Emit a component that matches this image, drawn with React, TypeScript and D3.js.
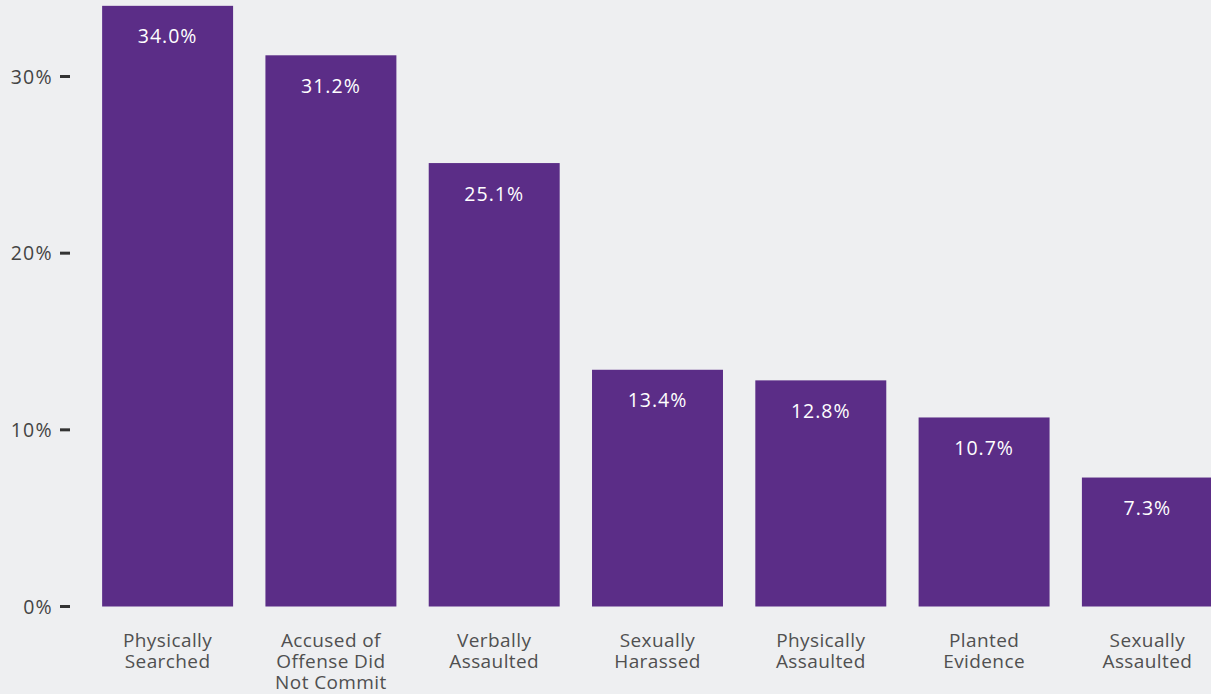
import React from "react";
import * as d3 from "d3";

const categories: string[][] = [
  ["Physically", "Searched"],
  ["Accused of", "Offense Did", "Not Commit"],
  ["Verbally", "Assaulted"],
  ["Sexually", "Harassed"],
  ["Physically", "Assaulted"],
  ["Planted", "Evidence"],
  ["Sexually", "Assaulted"],
];
const values: number[] = [34.0, 31.2, 25.1, 13.4, 12.8, 10.7, 7.3];
const yTicks: number[] = [0, 10, 20, 30];

const W = 1211;
const H = 694;
const FONT = "'Open Sans', sans-serif";

export default function App() {
  const keys = categories.map((c) => c.join(" "));
  const x = d3
    .scaleBand<string>()
    .domain(keys)
    .range([85.8, 1229.2])
    .paddingInner(0.198)
    .paddingOuter(0.1);
  const y = d3.scaleLinear().domain([0, 30]).range([606.5, 76.5]);

  return (
    <svg
      width={W}
      height={H}
      style={{ position: "absolute", left: 0, top: 0, display: "block", background: "#eeeff1" }}
    >
      <rect x={0} y={0} width={W} height={H} fill="#eeeff1" />
      {yTicks.map((t) => (
        <g key={t}>
          <line x1={60} x2={70} y1={y(t)} y2={y(t)} stroke="#333" strokeWidth={3} />
          <text
            x={53}
            y={y(t)}
            dy="0.36em"
            textAnchor="end"
            fontFamily={FONT}
            fontSize={19.5}
            fill="#444"
            letterSpacing={1.3}
          >
            {t}%
          </text>
        </g>
      ))}
      {values.map((v, i) => {
        const k = keys[i];
        const bx = x(k)!;
        const bw = x.bandwidth();
        const top = y(v);
        const cx = bx + bw / 2;
        return (
          <g key={k}>
            <rect x={bx} y={top} width={bw} height={y(0) - top} fill="#5b2d87" />
            <text
              x={cx}
              y={top + 37.5}
              textAnchor="middle"
              fontFamily={FONT}
              fontSize={19.5}
              fill="#ffffff"
              letterSpacing={1}
            >
              {v.toFixed(1)}%
            </text>
            <text
              x={cx}
              y={647}
              textAnchor="middle"
              fontFamily={FONT}
              fontSize={19}
              fill="#505050"
              letterSpacing={0.4}
            >
              {categories[i].map((line, j) => (
                <tspan key={j} x={cx} dy={j === 0 ? 0 : 21}>
                  {line}
                </tspan>
              ))}
            </text>
          </g>
        );
      })}
    </svg>
  );
}
